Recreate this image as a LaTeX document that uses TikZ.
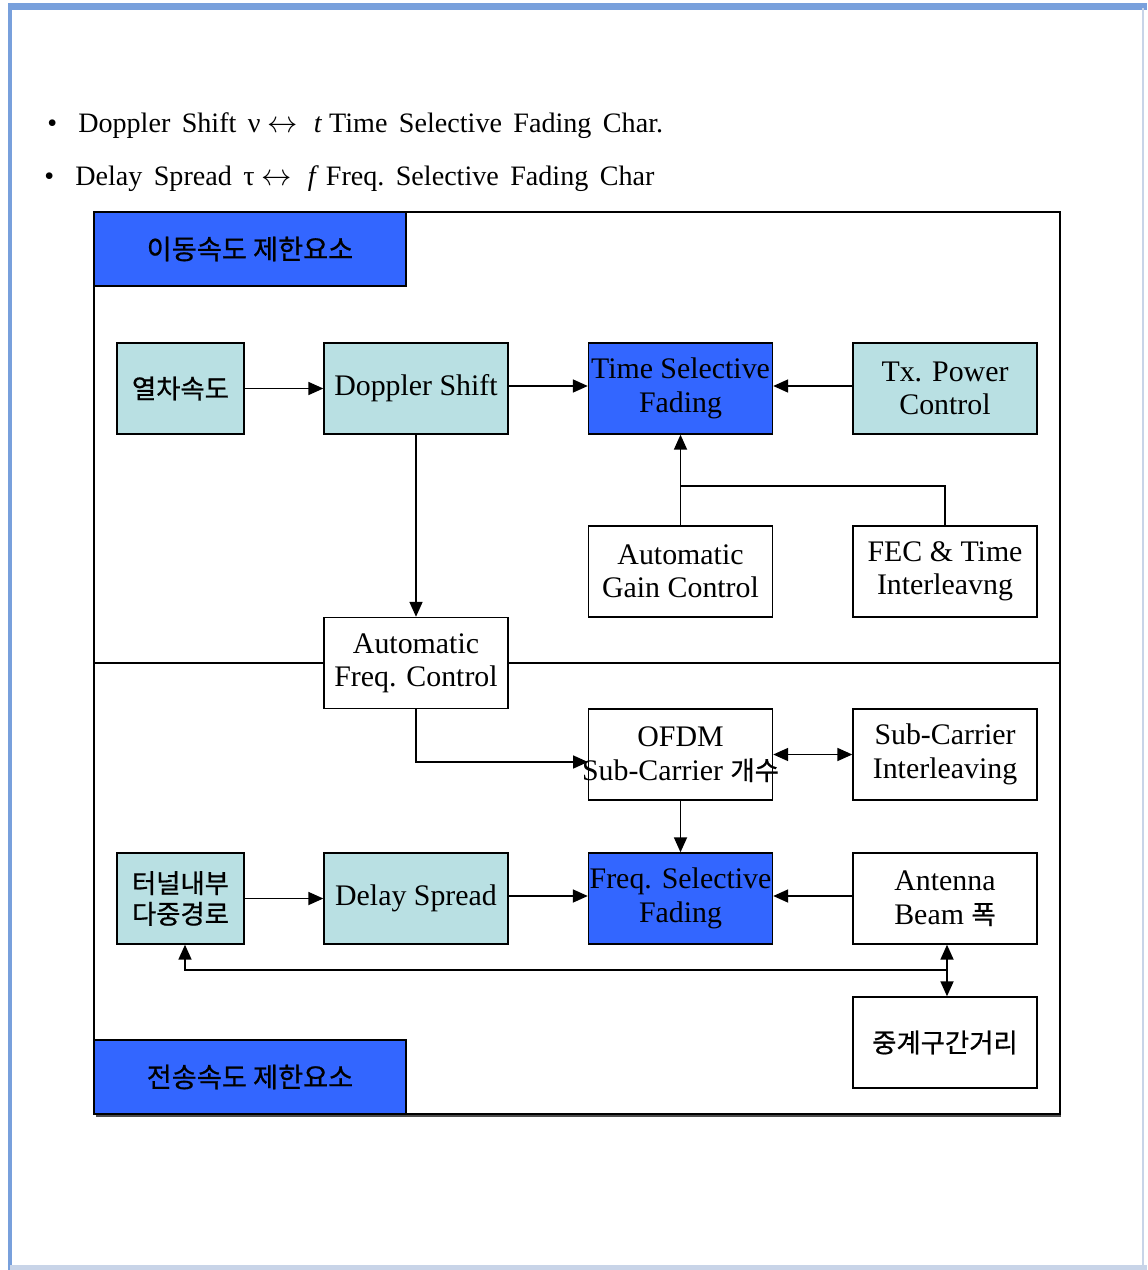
\documentclass[tikz,border=0pt]{standalone}
\usepackage{fontspec}
\setmainfont{Liberation Serif}
\newfontfamily\kr[FakeBold=0.7]{Noto Sans CJK KR}
\usetikzlibrary{arrows.meta}
\definecolor{bluefill}{RGB}{51,102,255}
\definecolor{tealfill}{RGB}{185,224,227}
\definecolor{frameblue}{RGB}{120,160,220}
\definecolor{framelight}{RGB}{200,212,232}
\newcommand{\zline}[1]{\makebox[0pt]{#1}}
\newcommand{\krw}[1]{{\kr\fontsize{15}{17}\selectfont #1}}
\tikzset{
  box/.style={draw=black, line width=0.8pt, inner sep=0pt, align=center,
    minimum width=3.68cm, minimum height=1.82cm,
    font=\fontsize{17}{19}\selectfont},
  smallbox/.style={box, minimum width=2.54cm},
  titlebox/.style={draw=black, line width=0.8pt, fill=bluefill, inner sep=0pt,
    minimum width=6.24cm, minimum height=1.48cm,
    font=\kr\fontsize{15.5}{17}\selectfont},
  teal/.style={fill=tealfill},
  blue/.style={fill=bluefill},
  white/.style={fill=white},
  krtext/.style={font=\kr\fontsize{15}{17.5}\selectfont},
  arr/.style={line width=1pt, -{Triangle[length=0.3cm,width=0.26cm]}},
  arrtwo/.style={line width=1pt, {Triangle[length=0.3cm,width=0.26cm]}-{Triangle[length=0.3cm,width=0.26cm]}},
  plain/.style={line width=1pt},
  bullet/.style={anchor=base west, inner sep=0pt, font=\fontsize{16}{19}\selectfont}
}
\begin{document}
\begin{tikzpicture}[x=0.02cm, y=-0.02cm]
\useasboundingbox (0,0) rectangle (1147,1270);
\fill[white] (0,0) rectangle (1147,1270);
% page frame
\fill[frameblue] (8,3) rectangle (1147,10);
\fill[frameblue] (8,3) rectangle (12,1270);
\draw[framelight, line width=1.5pt] (1143,8) -- (1143,1270);
\fill[framelight] (10,1265) rectangle (1147,1270);

% bullet lines
\node[bullet] (b1) at (47,133) {\textbullet\hspace{12pt}Doppler\hspace{6.5pt}Shift\hspace{6.5pt}ν $\leftrightarrow$\hspace{9pt}\textit{t} Time\hspace{6.5pt}Selective\hspace{6.5pt}Fading\hspace{6.5pt}Char.};
\node[bullet] (b2) at (44,186) {\textbullet\hspace{12pt}Delay\hspace{6.5pt}Spread\hspace{6.5pt}τ $\leftrightarrow$\hspace{9pt}\textit{f} Freq.\hspace{6.5pt}Selective\hspace{6.5pt}Fading\hspace{6.5pt}Char};

% outer frame and divider
\draw[black!70, line width=1.2pt] (96,1115.5) -- (1061,1115.5);
\draw[line width=0.8pt] (94,212) rectangle (1060,1114);
\draw[line width=0.8pt] (94,663) -- (1060,663);

% title boxes
\node[titlebox] (t1) at (250,249) {이동속도 제한요소};
\node[titlebox] (t2) at (250,1077) {전송속도 제한요소};

% upper boxes
\node[smallbox, teal, krtext] (speed) at (180.5,388.5) {열차속도};
\node[box, teal] (doppler) at (416,388.5) {Doppler Shift};
\node[box, blue] (tsf) at (680.5,388.5) {\zline{Time Selective}\\Fading};
\node[box, teal] (tx) at (945,388.5) {Tx. Power\\Control};
\node[box, white] (agc) at (680.5,571.5) {Automatic\\Gain Control};
\node[box, white] (fec) at (945,571.5) {FEC \& Time\\Interleavng};
\node[box, white] (afc) at (416,663) {Automatic\\Freq. Control};

% lower boxes
\node[box, white] (ofdm) at (680.5,754.5) {OFDM\\\zline{Sub-Carrier \krw{개수}}};
\node[box, white] (sci) at (945,754.5) {Sub-Carrier\\Interleaving};
\node[smallbox, teal, krtext] (tunnel) at (180.5,898.5) {터널내부\\다중경로};
\node[box, teal] (ds) at (416,898.5) {Delay Spread};
\node[box, blue] (fsf) at (680.5,898.5) {\zline{Freq. Selective}\\Fading};
\node[box, white] (ant) at (945,898.5) {Antenna\\Beam \krw{폭}};
\node[box, white, krtext] (relay) at (945,1042.5) {중계구간거리};

% connectors upper
\draw[arr] (speed) -- (doppler);
\draw[arr] (doppler.east |- 0,386) -- (tsf.west |- 0,386);
\draw[arr] (tx.west |- 0,386) -- (tsf.east |- 0,386);
\draw[arr] (agc) -- (tsf);
\coordinate (jn) at (680.5,486);
\draw[plain] (fec.north) |- (jn);
\draw[arr] (doppler) -- (afc);

% connectors lower
\coordinate (ofin) at (588,762);
\draw[arr] (afc.south) |- (ofin);
\draw[arrtwo] (ofdm) -- (sci);
\draw[arr] (ofdm) -- (fsf);
\draw[arr] (tunnel) -- (ds);
\draw[arr] (ds.east |- 0,896) -- (fsf.west |- 0,896);
\draw[arr] (ant.west |- 0,896) -- (fsf.east |- 0,896);
\coordinate (fb) at (946,970);
\draw[arr] (fb) -| ([xshift=0.09cm]tunnel.south);
\draw[arrtwo] ([xshift=0.04cm]ant.south) -- ([xshift=0.04cm]relay.north);
\end{tikzpicture}
\end{document}
